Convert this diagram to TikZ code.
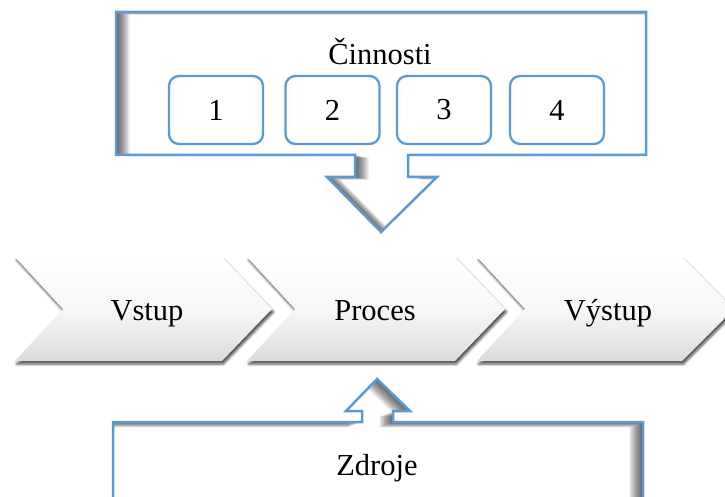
\documentclass[tikz,border=0pt]{standalone}
\usepackage{fontspec}
\setmainfont{Liberation Serif}
\usetikzlibrary{shadows.blur}
\definecolor{accblue}{RGB}{91,155,213}
\begin{document}
\begin{tikzpicture}[x=1pt,y=-1pt,
  lbl/.style={font=\fontsize{30.5}{36}\selectfont, text=black, inner sep=0pt},
  chev/.style={top color=white, bottom color=black!14, middle color=black!3,
    blur shadow={shadow xshift=1.5pt, shadow yshift=-3pt, shadow blur radius=2.5pt, shadow opacity=70}},
  callout/.style={draw=accblue, line width=2.5pt, line join=miter},
  numbox/.style={draw=accblue, line width=2.3pt, rounded corners=10pt, fill=white,
    minimum width=94pt, minimum height=68pt, inner sep=0pt,
    font=\fontsize{30.5}{36}\selectfont},
  ishadow/.style={fill=black, opacity=0.09, even odd rule}
]
\useasboundingbox (0,0) rectangle (725,497);
\clip (0,0) rectangle (725,497);

\def\topcallout{(116,12) -- (646,12) -- (646,155) -- (408,155) -- (408,177) -- (437,177) -- (381,232) -- (327,177) -- (355,177) -- (355,155) -- (116,155) -- cycle}
\def\botcallout{(113,422) -- (362,422) -- (362,411) -- (346,411) -- (377,379) -- (410,411) -- (393,411) -- (393,422) -- (643,422) -- (643,560) -- (113,560) -- cycle}

% chevrons
\path[chev] (15,257) -- (222,257) -- (272,309) -- (222,361) -- (15,361) -- (63,309) -- cycle;
\path[chev] (247,257) -- (455,257) -- (505,309) -- (455,361) -- (247,361) -- (295,309) -- cycle;
\path[chev] (477,257) -- (682,257) -- (734,309) -- (682,361) -- (477,361) -- (525,309) -- cycle;
\node[lbl, anchor=base] (vstup) at (147,320) {Vstup};
\node[lbl, anchor=base] (proces) at (375,320) {Proces};
\node[lbl, anchor=base] (vystup) at (608,320) {Výstup};

% top callout
\fill[white] \topcallout;
\begin{scope}
  \clip \topcallout;
  \foreach \d in {1.5,3,...,13.5} {
    \path[ishadow, shift={(\d,\d/5)}] (-200,-200) rectangle (1000,800) \topcallout;
  }
\end{scope}
\draw[callout] \topcallout;
\node[lbl, anchor=base] (cinnosti) at (380,65) {Činnosti};
\node[numbox] (a1) at (216,110) {1};
\node[numbox] (a2) at (332.5,110) {2};
\node[numbox] (a3) at (444,110) {3};
\node[numbox] (a4) at (557,110) {4};

% bottom callout
\fill[white] \botcallout;
\begin{scope}
  \clip \botcallout;
  \foreach \d in {1.5,3,...,13.5} {
    \path[ishadow, shift={(-\d,\d/2.5)}] (-200,-200) rectangle (1000,800) \botcallout;
  }
\end{scope}
\draw[callout] \botcallout;
\node[lbl, anchor=base] (zdroje) at (377,475) {Zdroje};
\end{tikzpicture}
\end{document}
